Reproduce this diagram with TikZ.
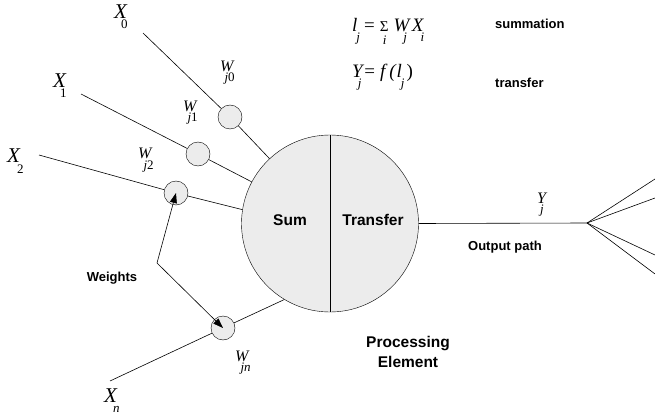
\documentclass[tikz,border=0pt]{standalone}
\usepackage{fontspec}
\setmainfont{Liberation Serif}
\setsansfont{Liberation Sans}
\usetikzlibrary{positioning, arrows.meta, calc}

\newcommand{\lowsub}[2][-4pt]{\kern#1\raisebox{-10pt}{\fontsize{13}{13}\selectfont #2}}
\newcommand{\sumsign}{\makebox[0pt][l]{\raisebox{-13pt}{\fontsize{13}{13}\selectfont\kern3pt i}}{\upshape\fontsize{15}{15}\selectfont Σ}}

\begin{document}
\begin{tikzpicture}[x=1pt, y=-1pt,
  neuron/.style={circle, draw, fill=gray!15, minimum size=177pt, inner sep=0pt},
  weight/.style={circle, draw, fill=gray!15, minimum size=24pt, inner sep=0pt},
  varlbl/.style={font=\fontsize{21}{21}\selectfont\itshape, inner sep=0pt, anchor=base west},
  wlbl/.style={font=\fontsize{16}{16}\selectfont\itshape, inner sep=0pt, anchor=base west},
  eqn/.style={font=\fontsize{19}{19}\selectfont\itshape, inner sep=0pt, anchor=base west},
  tag/.style={font=\fontsize{13}{13}\selectfont\sffamily\bfseries, inner sep=0pt},
  bigtag/.style={font=\fontsize{15.5}{20}\selectfont\sffamily\bfseries, align=center, inner sep=0pt},
  wire/.style={line width=0.6pt},
  feed/.style={line width=0.6pt, -{Triangle[length=10pt, width=7pt]}}
]
  \useasboundingbox (0,0) rectangle (655,414);

  % processing element
  \node[neuron] (neuron) at (330,223.5) {};
  \draw[wire] (neuron.north) -- (neuron.south);
  \node[bigtag] (sum) at (290,220) {Sum};
  \node[bigtag] (transfer) at (373,220) {Transfer};

  % weights
  \node[weight] (w0) at (230,117) {};
  \node[weight] (w1) at (198,154) {};
  \node[weight] (w2) at (176,193) {};
  \node[weight] (wn) at (223,328) {};

  % inputs
  \coordinate (in0) at (143,33);
  \coordinate (in1) at (81,94);
  \coordinate (in2) at (39,155);
  \coordinate (inn) at (110,381);
  \draw[wire] (in0) -- (w0) -- (neuron.133);
  \draw[wire] (in1) -- (w1) -- (neuron.152);
  \draw[wire] (in2) -- (w2) -- (neuron.171);
  \draw[wire] (inn) -- (wn) -- (neuron.239);

  \node[varlbl] (x0) at (114,19) {X\lowsub[-6pt]{\upshape 0}};
  \node[varlbl] (x1) at (53,88) {X\lowsub[-6pt]{\upshape 1}};
  \node[varlbl] (x2) at (7,163) {X\lowsub[-3pt]{\upshape 2}};
  \node[varlbl] (xn) at (104,402) {X\lowsub[-4pt]{n}};

  \node[wlbl] (lw0) at (220,72) {W\lowsub[-9pt]{j\upshape 0}};
  \node[wlbl] (lw1) at (183,112) {W\lowsub[-9pt]{j\upshape 1}};
  \node[wlbl] (lw2) at (138,159) {W\lowsub[-8pt]{j\upshape 2}};
  \node[wlbl] (lwn) at (235,361) {W\lowsub[-8pt]{jn}};

  % weight adjustment
  \coordinate (bend) at (157,263);
  \draw[feed] (bend) -- (w2.center);
  \draw[feed] (bend) -- (wn.center);
  \node[tag] (weights) at (112,278) {Weights};

  % output
  \coordinate (fan) at (587,223);
  \draw[wire] (neuron.east) -- (fan);
  \foreach \yy in {179,198,255,274}
    \draw[wire] (fan) -- (655,\yy);
  \node[wlbl] (yj) at (537,203) {Y\lowsub[-6pt]{j}};
  \node[tag] (outpath) at (505,247) {Output path};

  % equations
  \node[eqn] (eqsum) at (352,32) {l\lowsub[-1pt]{j}\kern4pt{\upshape =}\kern5pt\sumsign\kern5pt W\lowsub[-6pt]{j}\kern5pt X\lowsub[-3pt]{i}};
  \node[eqn] (eqtrans) at (352,78) {Y\lowsub[-5pt]{j}\kern3pt{\upshape =}\kern5pt f\kern4pt({\kern1pt}l\lowsub[-1pt]{j}\kern2pt{\upshape )}};
  \node[tag, anchor=west] (summation) at (495,24) {summation};
  \node[tag, anchor=west] (transfertag) at (495,83) {transfer};

  \node[bigtag] (pe) at (408,352) {Processing\\Element};
\end{tikzpicture}
\end{document}
